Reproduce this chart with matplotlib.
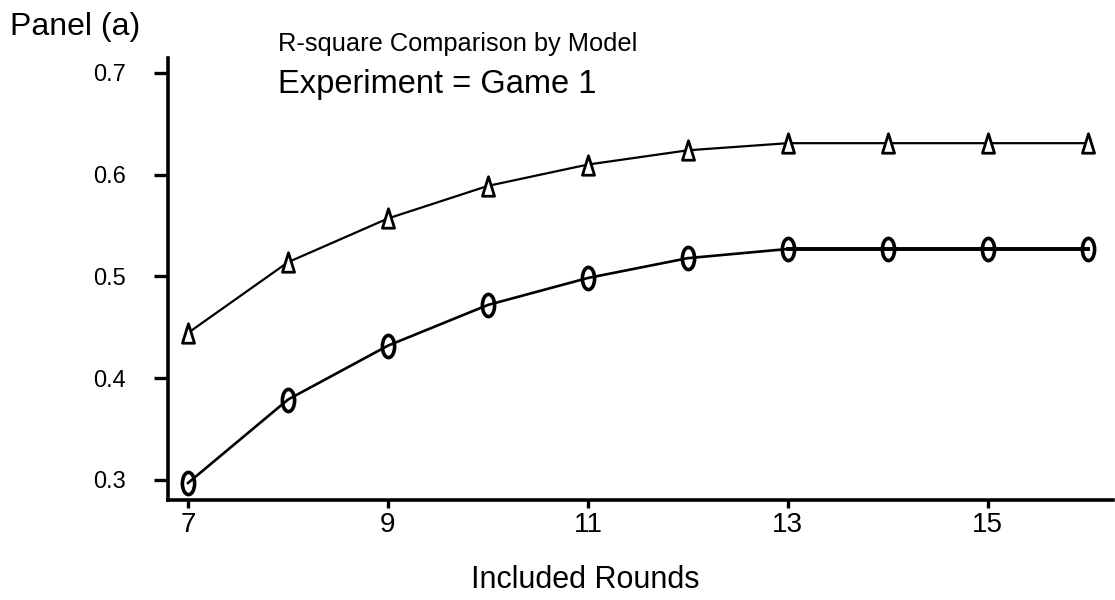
import matplotlib
matplotlib.use("Agg")
import matplotlib.pyplot as plt
from matplotlib.path import Path
from matplotlib.transforms import Affine2D

plt.rcParams['font.family'] = ['Liberation Sans', 'DejaVu Sans']

rounds = [7, 8, 9, 10, 11, 12, 13, 14, 15, 16]
model_tri = [0.4445, 0.514, 0.557, 0.589, 0.610, 0.624, 0.631, 0.631, 0.631, 0.631]
model_circ = [0.297, 0.379, 0.432, 0.472, 0.4985, 0.518, 0.527, 0.527, 0.527, 0.527]
xticks = [7, 9, 11, 13, 15]
yticks = [0.3, 0.4, 0.5, 0.6, 0.7]

ellipse = Path.unit_circle().transformed(Affine2D().scale(0.55, 1.0))
tri = Path([(-0.62, -1.0), (0.0, 1.0), (0.62, -1.0), (-0.62, -1.0)],
           [Path.MOVETO, Path.LINETO, Path.LINETO, Path.CLOSEPOLY])

fig = plt.figure(figsize=(11.15, 6.0), dpi=100)
ax = fig.add_axes([0.1507, 0.1667, 0.998 - 0.1507, 0.9033 - 0.1667])

ax.plot(rounds, model_tri, color='black', lw=1.6, marker=tri, ms=14,
        mfc='white', mec='black', mew=2.0, zorder=3)
ax.plot(rounds, model_circ, color='black', lw=1.9, zorder=2)
ax.plot(rounds[6:], model_circ[6:], color='black', lw=2.8, zorder=2)
ax.plot(rounds, model_circ, ls='none', marker=ellipse, ms=16,
        mfc='none', mec='black', mew=2.6, zorder=3)

ax.set_xlim(6.8, 16.25)
ax.set_ylim(0.2803, 0.7147)
ax.set_xticks(xticks)
ax.set_xticklabels([str(v) for v in xticks])
ax.set_yticks(yticks)
ax.set_yticklabels([f"{v:.1f}" for v in yticks])

for s in ['top', 'right']:
    ax.spines[s].set_visible(False)
for s in ['left', 'bottom']:
    ax.spines[s].set_linewidth(2.6)

ax.tick_params(axis='x', direction='out', length=6, width=2.4, pad=3, labelsize=20)
ax.tick_params(axis='y', direction='out', length=10, width=2.4, pad=20, labelsize=17)

fig.text(585 / 1115, 1 - 588 / 600, 'Included Rounds', fontsize=22, ha='center', va='baseline')
fig.text(10 / 1115, 1 - 35 / 600, 'Panel (a)', fontsize=23, ha='left', va='baseline')
fig.text(278 / 1115, 1 - 51 / 600, 'R-square Comparison by Model', fontsize=18.3, ha='left', va='baseline')
fig.text(278 / 1115, 1 - 93 / 600, 'Experiment = Game 1', fontsize=23.5, ha='left', va='baseline')

fig.savefig('out.png', dpi=100)
